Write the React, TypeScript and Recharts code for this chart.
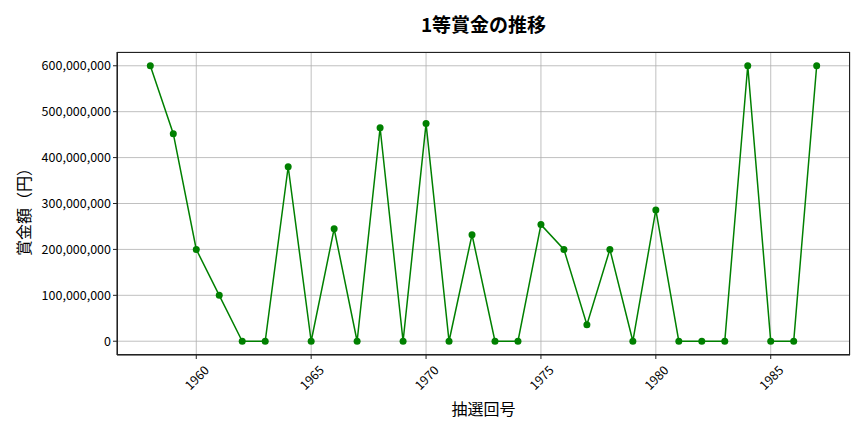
import { LineChart, Line, XAxis, YAxis, CartesianGrid } from "recharts";

const years = [
  1958, 1959, 1960, 1961, 1962, 1963, 1964, 1965, 1966, 1967, 1968, 1969, 1970,
  1971, 1972, 1973, 1974, 1975, 1976, 1977, 1978, 1979, 1980, 1981, 1982, 1983,
  1984, 1985, 1986, 1987,
];

const prizes = [
  600000000, 452000000, 200000000, 100000000, 0, 0, 380000000, 0, 245000000, 0,
  465000000, 0, 474000000, 0, 232000000, 0, 0, 254000000, 200000000, 36000000,
  200000000, 0, 286000000, 0, 0, 0, 600000000, 0, 0, 600000000,
];

const xTicks = [1960, 1965, 1970, 1975, 1980, 1985];
const yTicks = [0, 100000000, 200000000, 300000000, 400000000, 500000000, 600000000];

const data = years.map((year, i) => ({ year, prize: prizes[i] }));

const FONT = "'Noto Sans CJK JP', 'Noto Sans', sans-serif";

function RotatedTick(props: any) {
  const { x, y, payload } = props;
  const cy = y + 16;
  return (
    <text
      x={x}
      y={cy}
      textAnchor="middle"
      dominantBaseline="central"
      transform={`rotate(-45 ${x} ${cy})`}
      fontSize={12.5}
      fontFamily={FONT}
      fill="#000"
    >
      {payload.value}
    </text>
  );
}

export default function App() {
  return (
    <div
      style={{
        position: "absolute",
        left: 0,
        top: 0,
        width: 864,
        height: 432,
        background: "#fff",
        fontFamily: FONT,
      }}
    >
      <div
        style={{
          position: "absolute",
          left: 117,
          width: 733,
          top: 10,
          textAlign: "center",
          fontSize: 19,
          fontWeight: "bold",
        }}
      >
        1等賞金の推移
      </div>
      <div
        style={{
          position: "absolute",
          left: 23,
          top: 208,
          transform: "translate(-50%, -50%) rotate(-90deg)",
          fontSize: 16,
          whiteSpace: "nowrap",
        }}
      >
        賞金額（円）
      </div>
      <div
        style={{
          position: "absolute",
          left: 117,
          width: 733,
          top: 396,
          textAlign: "center",
          fontSize: 16,
        }}
      >
        抽選回号
      </div>
      <div style={{ position: "absolute", left: 0, top: 0 }}>
        <LineChart
          width={864}
          height={432}
          data={data}
          margin={{ top: 52, right: 14, left: 37, bottom: 17 }}
        >
          <CartesianGrid stroke="#b0b0b0" strokeWidth={0.8} />
          <XAxis
            dataKey="year"
            type="number"
            domain={[1956.55, 1988.45]}
            ticks={xTicks}
            allowDataOverflow
            height={60}
            stroke="#222"
            tickSize={4}
            tick={<RotatedTick />}
          />
          <YAxis
            type="number"
            domain={[-30000000, 630000000]}
            ticks={yTicks}
            allowDataOverflow
            width={80}
            stroke="#222"
            tickSize={4}
            tick={{ fontSize: 12.5, fontFamily: FONT, fill: "#000" }}
            tickFormatter={(v: number) => v.toLocaleString("en-US")}
          />
          <Line
            type="linear"
            dataKey="prize"
            stroke="#008000"
            strokeWidth={1.5}
            dot={{ r: 3.5, fill: "#008000", stroke: "#008000", strokeWidth: 0 }}
            activeDot={false}
            isAnimationActive={false}
          />
        </LineChart>
      </div>
      <div
        style={{
          position: "absolute",
          left: 117,
          top: 52,
          width: 733,
          height: 303,
          boxSizing: "border-box",
          border: "1px solid #222",
          pointerEvents: "none",
        }}
      />
    </div>
  );
}
